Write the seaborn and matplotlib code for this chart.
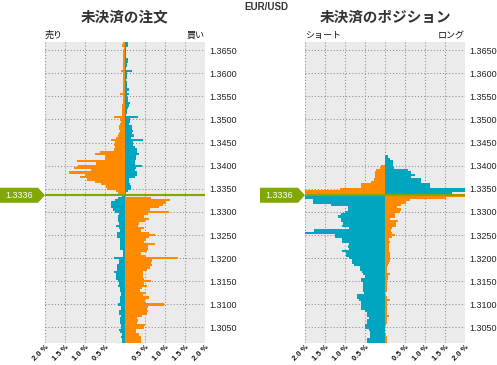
import matplotlib
matplotlib.use("Agg")
import matplotlib.pyplot as plt
import matplotlib.transforms as mtransforms
from matplotlib.patches import Polygon
import pandas as pd
import seaborn as sns

# ---------------- data ----------------
prices = [
    1.3665, 1.3660, 1.3655, 1.3650, 1.3645, 1.3640, 1.3635, 1.3630, 1.3625, 1.3620,
    1.3615, 1.3610, 1.3605, 1.3600, 1.3595, 1.3590, 1.3585, 1.3580, 1.3575, 1.3570,
    1.3565, 1.3560, 1.3555, 1.3550, 1.3545, 1.3540, 1.3535, 1.3530, 1.3525, 1.3520,
    1.3515, 1.3510, 1.3505, 1.3500, 1.3495, 1.3490, 1.3485, 1.3480, 1.3475, 1.3470,
    1.3465, 1.3460, 1.3455, 1.3450, 1.3445, 1.3440, 1.3435, 1.3430, 1.3425, 1.3420,
    1.3415, 1.3410, 1.3405, 1.3400, 1.3395, 1.3390, 1.3385, 1.3380, 1.3375, 1.3370,
    1.3365, 1.3360, 1.3355, 1.3350, 1.3345, 1.3340, 1.3335, 1.3330, 1.3325, 1.3320,
    1.3315, 1.3310, 1.3305, 1.3300, 1.3295, 1.3290, 1.3285, 1.3280, 1.3275, 1.3270,
    1.3265, 1.3260, 1.3255, 1.3250, 1.3245, 1.3240, 1.3235, 1.3230, 1.3225, 1.3220,
    1.3215, 1.3210, 1.3205, 1.3200, 1.3195, 1.3190, 1.3185, 1.3180, 1.3175, 1.3170,
    1.3165, 1.3160, 1.3155, 1.3150, 1.3145, 1.3140, 1.3135, 1.3130, 1.3125, 1.3120,
    1.3115, 1.3110, 1.3105, 1.3100, 1.3095, 1.3090, 1.3085, 1.3080, 1.3075, 1.3070,
    1.3065, 1.3060, 1.3055, 1.3050, 1.3045, 1.3040, 1.3035, 1.3030, 1.3025, 1.3020,
]

# open orders (%): left side = sell, right side = buy
order_sell = [
    0.05, 0.075, 0.03, 0.04, 0.04, 0.045, 0.045, 0.045, 0.05, 0.04,
    0.045, 0.045, 0.10, 0.04, 0.04, 0.04, 0.04, 0.05, 0.04, 0.05,
    0.05, 0.06, 0.125, 0.06, 0.05, 0.05, 0.06, 0.07, 0.075, 0.075,
    0.075, 0.075, 0.275, 0.12, 0.11, 0.125, 0.15, 0.14, 0.125, 0.15,
    0.175, 0.23, 0.35, 0.25, 0.275, 0.25, 0.275, 0.625, 0.75, 0.5,
    0.5, 1.2, 0.725, 1.175, 1.275, 0.85, 1.4, 1.0, 1.125, 0.95,
    0.75, 0.6, 0.475, 0.45, 0.225, 0.175, 0.07, 0.17, 0.24, 0.34,
    0.34, 0.34, 0.3, 0.24, 0.14, 0.17, 0.17, 0.17, 0.14, 0.22,
    0.14, 0.12, 0.19, 0.19, 0.19, 0.12, 0.12, 0.12, 0.12, 0.12,
    0.04, 0.04, 0.04, 0.27, 0.14, 0.14, 0.19, 0.19, 0.19, 0.27,
    0.22, 0.22, 0.22, 0.17, 0.14, 0.17, 0.12, 0.12, 0.09, 0.09,
    0.12, 0.12, 0.12, 0.17, 0.09, 0.09, 0.14, 0.14, 0.09, 0.12,
    0.12, 0.12, 0.09, 0.09, 0.14, 0.12, 0.07, 0.09, 0.07, 0.07,
]
order_buy = [
    0.075, 0.075, 0.03, 0.03, 0.035, 0.02, 0.025, 0.075, 0.075, 0.04,
    0.05, 0.025, 0.175, 0.05, 0.04, 0.05, 0.03, 0.05, 0.04, 0.06,
    0.09, 0.06, 0.09, 0.05, 0.07, 0.07, 0.12, 0.10, 0.07, 0.06,
    0.04, 0.035, 0.325, 0.12, 0.12, 0.11, 0.17, 0.18, 0.19, 0.17,
    0.225, 0.14, 0.45, 0.19, 0.19, 0.24, 0.29, 0.29, 0.34, 0.28,
    0.27, 0.25, 0.24, 0.425, 0.27, 0.25, 0.3, 0.29, 0.24, 0.10,
    0.11, 0.125, 0.15, 0.15, 0.075, 0.03, 0.0, 0.65, 1.13, 1.03,
    0.95, 0.85, 0.63, 1.10, 0.58, 0.48, 0.61, 0.51, 0.36, 0.33,
    0.48, 0.41, 0.61, 0.76, 0.61, 0.53, 0.48, 0.76, 0.58, 0.58,
    0.56, 0.41, 0.53, 1.33, 0.68, 0.66, 0.68, 0.63, 0.56, 0.46,
    0.46, 0.46, 0.48, 0.66, 0.48, 0.56, 0.43, 0.38, 0.53, 0.46,
    0.61, 0.51, 0.51, 0.98, 0.58, 0.56, 0.58, 0.56, 0.43, 0.31,
    0.33, 0.31, 0.51, 0.48, 0.28, 0.28, 0.36, 0.41, 0.41, 0.41,
]

# open positions (%): left side = short, right side = long
position_short = [
    0.0, 0.0, 0.0, 0.0, 0.0, 0.0, 0.0, 0.0, 0.0, 0.0,
    0.0, 0.0, 0.0, 0.0, 0.0, 0.0, 0.0, 0.0, 0.0, 0.0,
    0.0, 0.0, 0.0, 0.0, 0.0, 0.0, 0.0, 0.0, 0.0, 0.0,
    0.0, 0.0, 0.0, 0.0, 0.0, 0.0, 0.0, 0.0, 0.0, 0.0,
    0.0, 0.0, 0.0, 0.0, 0.0, 0.0, 0.0, 0.0, 0.0, 0.0,
    0.0, 0.0, 0.0, 0.09, 0.13, 0.22, 0.24, 0.24, 0.26, 0.27,
    0.35, 0.6, 0.6, 1.12, 2.0, 2.0, 2.0, 2.0, 1.8, 1.8,
    1.34, 0.92, 0.92, 0.99, 1.09, 1.17, 1.09, 1.09, 1.04, 1.07,
    0.89, 1.77, 2.0, 1.24, 1.24, 1.07, 1.07, 0.89, 0.92, 0.89,
    1.07, 0.97, 0.97, 0.89, 0.82, 0.82, 0.77, 0.62, 0.62, 0.57,
    0.54, 0.49, 0.59, 0.59, 0.54, 0.54, 0.54, 0.54, 0.52, 0.69,
    0.69, 0.64, 0.59, 0.59, 0.59, 0.59, 0.49, 0.44, 0.44, 0.39,
    0.44, 0.44, 0.49, 0.49, 0.39, 0.37, 0.37, 0.37, 0.44, 0.44,
]
position_long = [
    0.0, 0.0, 0.0, 0.0, 0.0, 0.0, 0.0, 0.0, 0.0, 0.0,
    0.0, 0.0, 0.0, 0.0, 0.0, 0.0, 0.0, 0.0, 0.0, 0.0,
    0.0, 0.0, 0.0, 0.0, 0.0, 0.0, 0.0, 0.0, 0.0, 0.0,
    0.0, 0.0, 0.0, 0.0, 0.0, 0.0, 0.0, 0.0, 0.0, 0.0,
    0.0, 0.0, 0.0, 0.0, 0.0, 0.0, 0.0, 0.0, 0.0, 0.07,
    0.12, 0.2, 0.2, 0.2, 0.22, 0.58, 0.66, 0.76, 0.66, 0.91,
    0.91, 1.12, 1.12, 2.0, 2.0, 1.68, 2.0, 1.53, 0.63, 0.53,
    0.41, 0.31, 0.41, 0.38, 0.26, 0.26, 0.13, 0.33, 0.28, 0.28,
    0.18, 0.16, 0.18, 0.26, 0.18, 0.11, 0.13, 0.10, 0.11, 0.11,
    0.11, 0.12, 0.13, 0.13, 0.13, 0.11, 0.08, 0.05, 0.04, 0.04,
    0.13, 0.07, 0.07, 0.06, 0.05, 0.06, 0.06, 0.04, 0.01, 0.03,
    0.06, 0.13, 0.06, 0.06, 0.06, 0.04, 0.04, 0.04, 0.11, 0.06,
    0.04, 0.04, 0.03, 0.01, 0.01, 0.01, 0.03, 0.04, 0.04, 0.05,
]

current_price = 1.3336
current_label = "1.3336"
pair = "EUR/USD"
titles = ["未決済の注文", "未決済のポジション"]
side_labels = [("売り", "買い"), ("ショート", "ロング")]
x_ticks = [-2.0, -1.5, -1.0, -0.5, 0.0, 0.5, 1.0, 1.5, 2.0]
x_tick_labels = ["2.0 %", "1.5 %", "1.0 %", "0.5 %", "", "0.5 %", "1.0 %", "1.5 %", "2.0 %"]
y_ticks = [1.3650, 1.3600, 1.3550, 1.3500, 1.3450, 1.3400, 1.3350,
           1.3300, 1.3250, 1.3200, 1.3150, 1.3100, 1.3050]
y_tick_labels = ["1.3650", "1.3600", "1.3550", "1.3500", "1.3450", "1.3400", "1.3350",
                 "1.3300", "1.3250", "1.3200", "1.3150", "1.3100", "1.3050"]
y_range = (1.30175, 1.36675)
x_range = (-2.0, 2.0)

# ---------------- style ----------------
ORANGE = "#FF8A00"
BLUE = "#00A6C0"
GREEN = "#80A800"
FACE = "#EBEBEB"

sns.set_theme(style="darkgrid", rc={
    "axes.facecolor": FACE,
    "figure.facecolor": "white",
    "grid.color": "#8C8C8C",
    "grid.linestyle": (0, (1, 2)),
    "grid.linewidth": 0.75,
})
plt.rcParams["font.family"] = ["Liberation Sans", "Noto Sans CJK JP", "DejaVu Sans"]

W, H = 497, 365
fig = plt.figure(figsize=(W / 100, H / 100), dpi=100)

ax_left_px = [45, 305]
ax_top_px, ax_w_px, ax_h_px = 42, 160, 300.5


def panel_frame(left_vals, right_vals):
    rows = []
    for p, lv, rv in zip(prices, left_vals, right_vals):
        above = p > current_price
        rows.append((p, -lv, "orange" if above else "blue"))
        rows.append((p, rv, "blue" if above else "orange"))
    return pd.DataFrame(rows, columns=["price", "value", "kind"])


frames = [panel_frame(order_sell, order_buy), panel_frame(position_short, position_long)]
title_centers = [125, 385]

for i, df in enumerate(frames):
    lx = ax_left_px[i]
    ax = fig.add_axes([lx / W, 1 - (ax_top_px + ax_h_px) / H, ax_w_px / W, ax_h_px / H])
    sns.barplot(data=df, x="value", y="price", hue="kind",
                palette={"orange": ORANGE, "blue": BLUE},
                orient="y", native_scale=True, dodge=False, width=1.0,
                errorbar=None, legend=False, saturation=1, linewidth=0, ax=ax)
    ax.set_xlabel("")
    ax.set_ylabel("")
    for s in ax.spines.values():
        s.set_visible(False)
    ax.set_axisbelow(True)
    ax.grid(True, axis="both")

    ax.set_xticks(x_ticks)
    ax.set_xticklabels(x_tick_labels, rotation=45, ha="right", va="top",
                       rotation_mode="anchor", fontsize=5.5, color="#111111",
                       fontweight="bold")
    ax.yaxis.tick_right()
    ax.set_yticks(y_ticks)
    ax.set_yticklabels(y_tick_labels, fontsize=6.5, color="#222222")
    ax.tick_params(axis="y", length=0, pad=3)
    ax.tick_params(axis="x", length=0, pad=1)

    # current price line and marker
    ax.axhline(current_price, color=GREEN, lw=1.5, zorder=5)
    trans = mtransforms.blended_transform_factory(ax.transAxes, ax.transData)
    hh = 7.5 / ax_h_px * (y_range[1] - y_range[0])
    x0, x1, x2 = -45 / ax_w_px, -7 / ax_w_px, 0.0
    verts = [(x0, current_price - hh), (x1, current_price - hh), (x2, current_price),
             (x1, current_price + hh), (x0, current_price + hh)]
    ax.add_patch(Polygon(verts, closed=True, transform=trans, facecolor=GREEN,
                         edgecolor="none", clip_on=False, zorder=6))
    ax.text((x0 + x1) / 2, current_price, current_label, transform=trans,
            ha="center", va="center", color="white", fontsize=6.5,
            zorder=7, clip_on=False)

    # side labels
    ax.text(0.0, 1.006, side_labels[i][0], transform=ax.transAxes,
            ha="left", va="bottom", fontsize=6.5, color="#111111")
    ax.text(1.0, 1.006, side_labels[i][1], transform=ax.transAxes,
            ha="right", va="bottom", fontsize=6.5, color="#111111")

    ax.set_xlim(*x_range)
    ax.set_ylim(*y_range)

    fig.text(title_centers[i] / W, 1 - 17.5 / H, titles[i], ha="center", va="center",
             fontsize=10.5, fontweight="bold", color="#333333")

fig.text(266 / W, 1 - 6.5 / H, pair, ha="center", va="center",
         fontsize=7, fontweight="bold", color="#333333")

fig.savefig("out.png", dpi=100)
